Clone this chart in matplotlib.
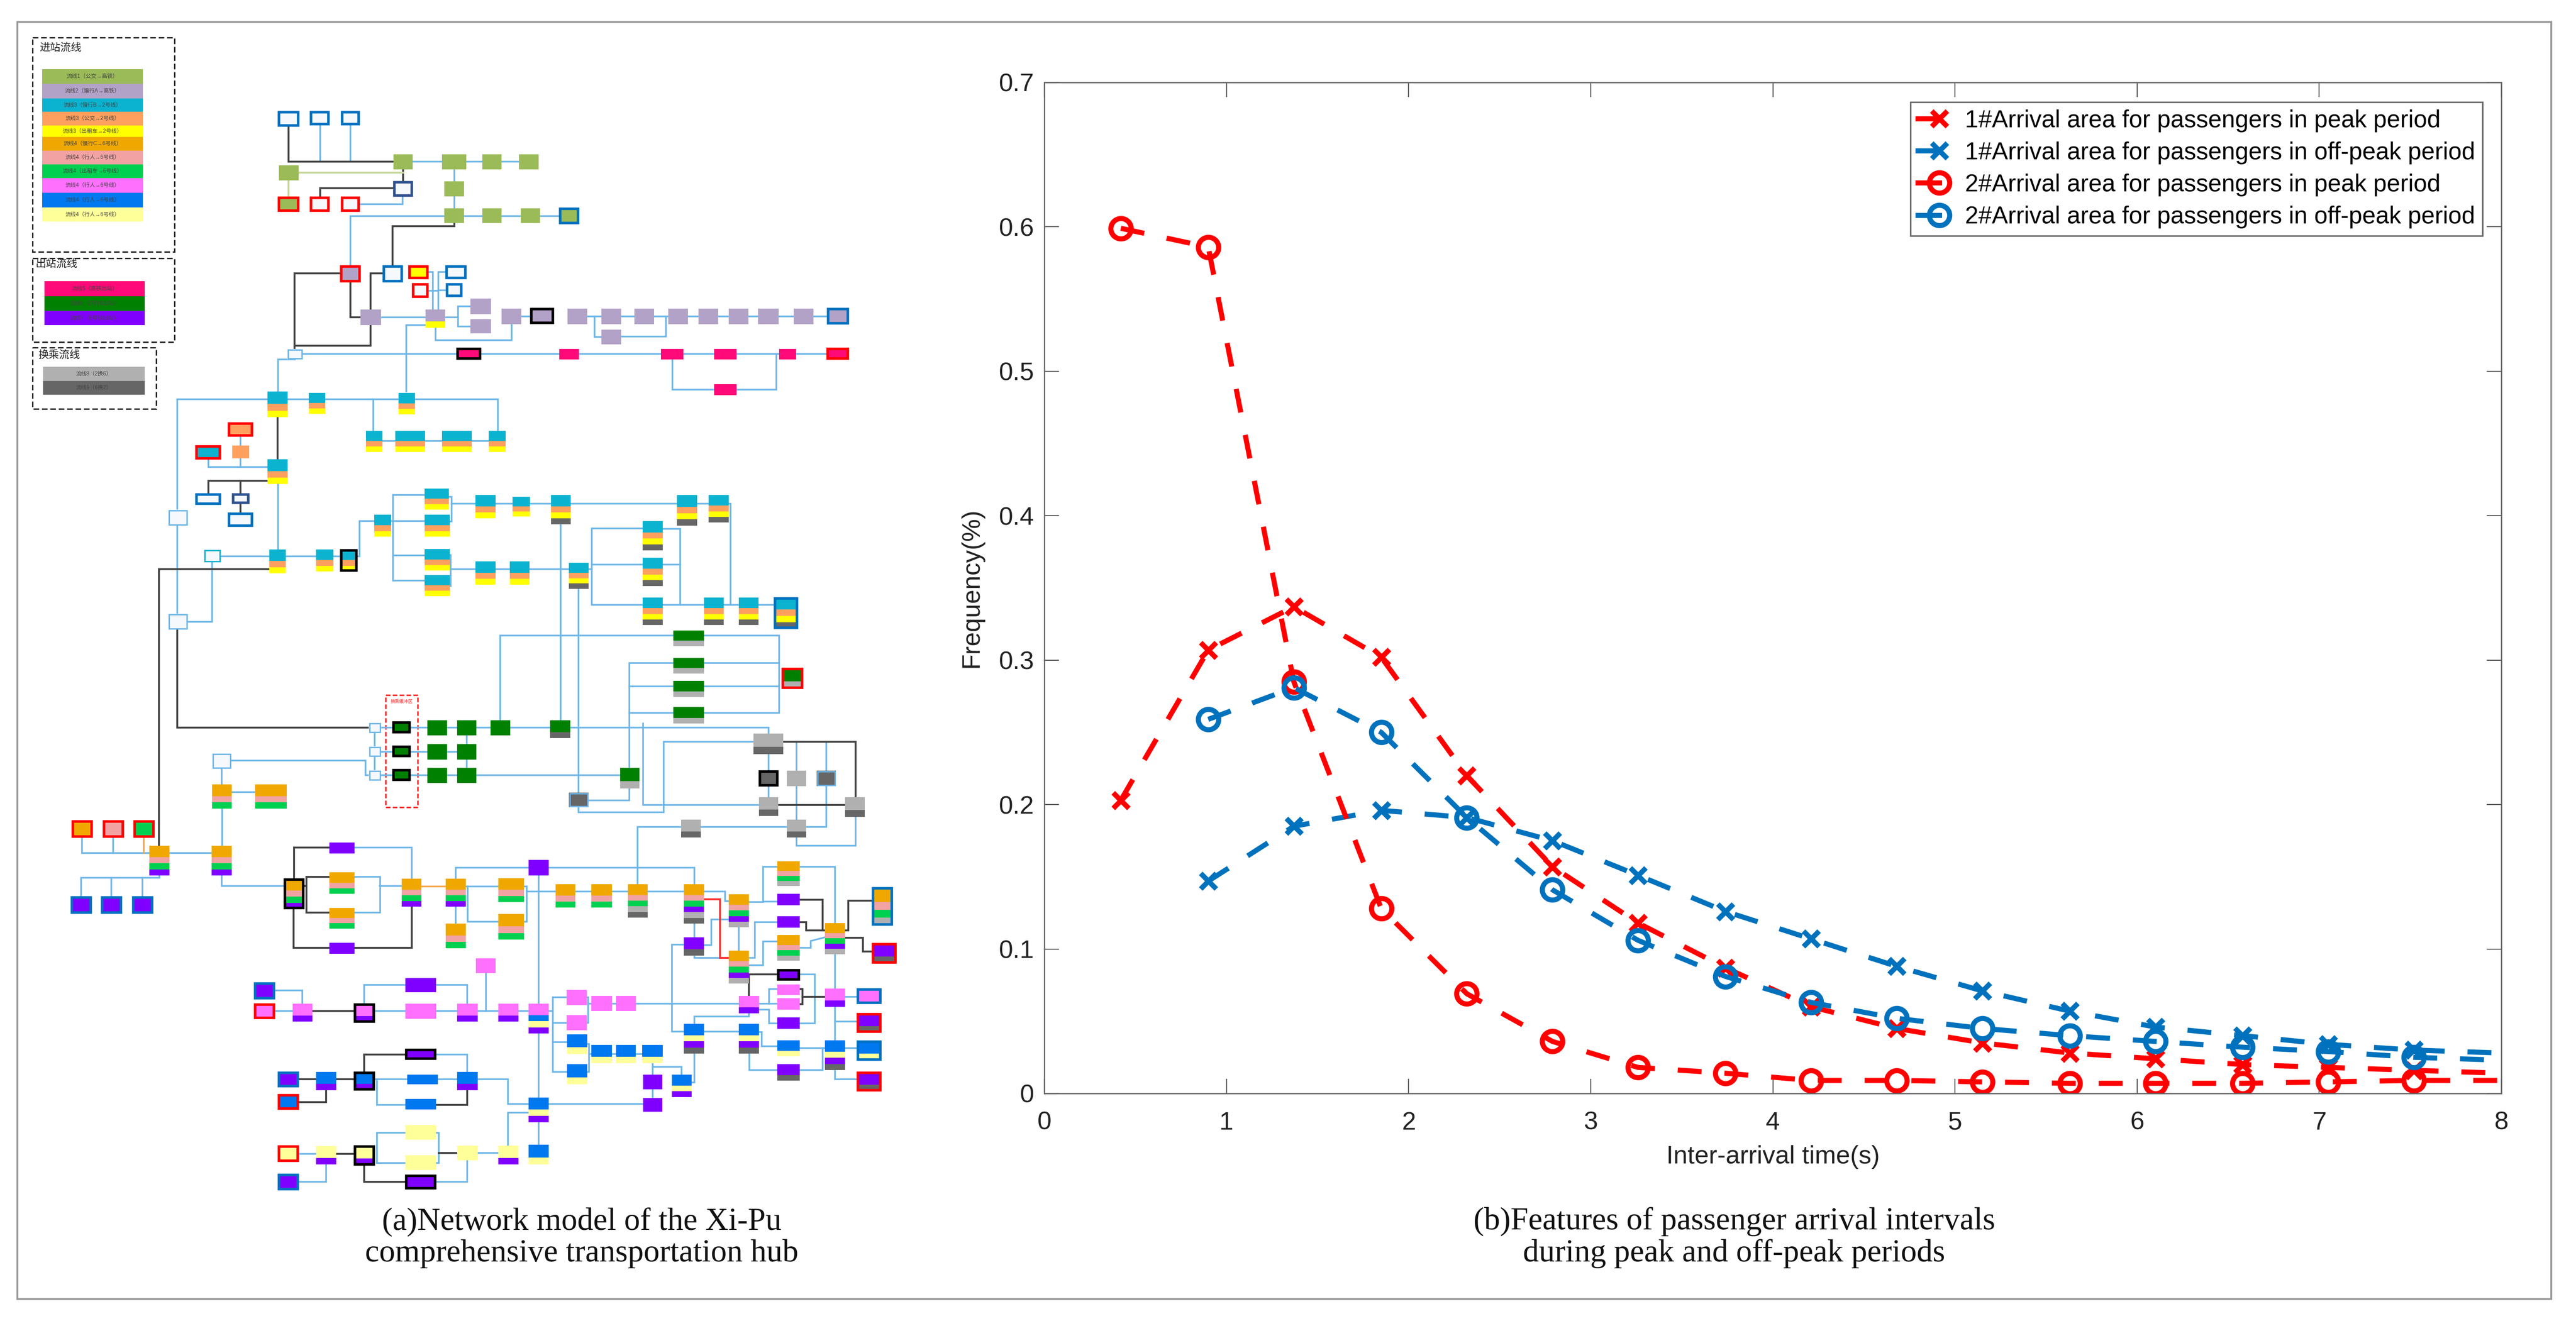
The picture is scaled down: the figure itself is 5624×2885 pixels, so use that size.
import matplotlib
matplotlib.use('Agg')
import matplotlib.pyplot as plt
from matplotlib.legend_handler import HandlerLine2D
from matplotlib.patches import Rectangle

W, H = 5624, 2885

# fills
GRN, PUR, TEA, ORG, YEL, AMB = '#9BBB59', '#B3A2C7', '#0BB3D0', '#FFA05F', '#FFFF00', '#F0A800'
PNK, LGR, MAG, BLU, LYL = '#F2A2A2', '#00D050', '#FF70FF', '#0078F0', '#FFFF99'
RSE, DGR, VIO, GRY, DGY, WHT = '#FF0A78', '#008000', '#8000FF', '#B0B0B0', '#666666', '#F5F8FC'
# edges
RED, BE, BLK, NVY, LB = '#FF0000', '#0070C0', '#000000', '#2F528F', '#6DB6E8'

# right panel data
x_vals = [0.42, 0.90, 1.37, 1.85, 2.32, 2.79, 3.26, 3.74, 4.21, 4.68, 5.15, 5.63, 6.10, 6.58, 7.05, 7.52, 8.00]
area1_peak = [0.203, 0.307, 0.337, 0.302, 0.220, 0.157, 0.118, 0.087, 0.060, 0.045, 0.035, 0.028, 0.024, 0.020,
              0.018, 0.016, 0.014]
area1_off = [0.147, 0.185, 0.196, 0.191, 0.175, 0.151, 0.126, 0.107, 0.088, 0.071, 0.057, 0.046, 0.040, 0.034,
             0.030, 0.028]
area2_peak = [0.599, 0.586, 0.285, 0.128, 0.069, 0.036, 0.018, 0.014, 0.009, 0.009, 0.008, 0.007, 0.007, 0.007,
              0.008, 0.009, 0.009]
area2_off = [0.259, 0.281, 0.250, 0.191, 0.141, 0.106, 0.081, 0.063, 0.052, 0.045, 0.040, 0.036, 0.032, 0.029,
             0.025, 0.023]
legend_labels = ['1#Arrival area for passengers in peak period', '1#Arrival area for passengers in off-peak period',
                 '2#Arrival area for passengers in peak period', '2#Arrival area for passengers in off-peak period']
caption_a = '(a)Network model of the Xi-Pu\ncomprehensive transportation hub'
caption_b = '(b)Features of passenger arrival intervals\nduring peak and off-peak periods'

# left panel key
key_in_title = '进站流线'
key_in = ['流线1（公交→高铁）', '流线2（慢行A→高铁）', '流线3（慢行B→2号线）', '流线3（公交→2号线）',
          '流线3（出租车→2号线）', '流线4（慢行C→6号线）', '流线4（行人→6号线）', '流线4（出租车→6号线）',
          '流线4（行人→6号线）', '流线4（行人→6号线）', '流线4（行人→6号线）']
key_in_colors = [GRN, PUR, TEA, ORG, YEL, AMB, PNK, LGR, MAG, BLU, LYL]
key_in_edges = [151, 183, 215, 244, 274, 299, 329, 359, 389, 421, 453, 484]
key_out_title = '出站流线'
key_out = ['流线5（高铁出站）', '流线6（2号线出站）', '流线7（6号线出站）']
key_out_colors = [RSE, DGR, VIO]
key_out_edges = [614, 647, 679, 710]
key_tr_title = '换乘流线'
key_tr = ['流线8（2换6）', '流线9（6换2）']
key_tr_colors = [GRY, DGY]
key_tr_edges = [801, 832, 862]

# network nodes: x0, y0, x1, y1, fills, edge
nodes_green = [
    (607, 243, 653, 276, [WHT], BE), (677, 243, 719, 273, [WHT], BE), (745, 243, 785, 273, [WHT], BE),
    (859, 337, 901, 370, [GRN], None), (965, 337, 1018, 370, [GRN], None), (1053, 337, 1095, 370, [GRN], None),
    (1133, 337, 1176, 370, [GRN], None), (609, 361, 652, 394, [GRN], None), (859, 396, 901, 429, [WHT], NVY),
    (970, 396, 1013, 429, [GRN], None), (607, 430, 653, 462, [GRN], RED), (677, 430, 719, 462, [WHT], RED),
    (745, 430, 785, 462, [WHT], RED), (970, 455, 1013, 487, [GRN], None), (1053, 455, 1095, 487, [GRN], None),
    (1137, 455, 1179, 487, [GRN], None), (1221, 454, 1264, 489, [GRN], BE),
]
nodes_purple = [
    (743, 580, 787, 616, [PUR], RED), (836, 580, 879, 616, [WHT], BE), (892, 580, 935, 609, [YEL], RED),
    (900, 619, 935, 650, [WHT], RED), (973, 580, 1018, 609, [WHT], BE), (974, 619, 1009, 648, [WHT], BE),
    (787, 676, 832, 710, [PUR], None), (929, 676, 972, 716, [PUR, YEL], None), (1027, 652, 1072, 686, [PUR], None),
    (1027, 697, 1072, 728, [PUR], None), (1095, 674, 1138, 708, [PUR], None), (1158, 673, 1209, 707, [PUR], BLK),
    (1239, 674, 1282, 708, [PUR], None), (1313, 674, 1356, 708, [PUR], None), (1385, 674, 1428, 708, [PUR], None),
    (1459, 674, 1502, 708, [PUR], None), (1525, 674, 1568, 708, [PUR], None), (1591, 674, 1634, 708, [PUR], None),
    (1655, 674, 1700, 708, [PUR], None), (1733, 674, 1776, 708, [PUR], None), (1806, 673, 1853, 708, [PUR], BE),
    (1313, 720, 1356, 752, [PUR], None),
]
nodes_rose = [
    (627, 762, 661, 785, [WHT], LB), (997, 760, 1050, 785, [RSE], BLK), (1221, 762, 1264, 785, [RSE], None),
    (1443, 762, 1492, 785, [RSE], None), (1559, 762, 1608, 785, [RSE], None), (1701, 762, 1738, 785, [RSE], None),
    (1805, 760, 1853, 785, [RSE], RED), (1559, 839, 1608, 863, [RSE], None),
]
nodes_teal = [
    (584, 855, 628, 911, [TEA, ORG, YEL], None), (674, 858, 710, 904, [TEA, ORG, YEL], None),
    (870, 858, 906, 905, [TEA, ORG, YEL], None), (799, 941, 835, 987, [TEA, ORG, YEL], None),
    (863, 941, 928, 987, [TEA, ORG, YEL], None), (965, 941, 1030, 987, [TEA, ORG, YEL], None),
    (1067, 941, 1104, 987, [TEA, ORG, YEL], None), (498, 923, 552, 953, [ORG], RED), (427, 973, 482, 1003, [TEA], RED),
    (507, 973, 544, 1001, [ORG], None), (584, 1003, 628, 1057, [TEA, ORG, YEL], None),
    (427, 1078, 482, 1102, [WHT], BE), (507, 1078, 544, 1100, [WHT], NVY), (498, 1120, 552, 1150, [WHT], BE),
    (367, 1113, 410, 1148, [WHT], LB), (445, 1200, 482, 1228, [WHT], TEA), (588, 1200, 624, 1252, [TEA, ORG, YEL], None),
    (690, 1200, 728, 1248, [TEA, ORG, YEL], None), (743, 1200, 780, 1248, [TEA, ORG, YEL], BLK),
    (367, 1340, 410, 1375, [WHT], LB), (927, 1067, 980, 1113, [TEA, ORG, YEL], None),
    (1038, 1081, 1082, 1132, [TEA, ORG, YEL], None), (1119, 1085, 1157, 1128, [TEA, ORG, YEL], None),
    (1203, 1081, 1246, 1145, [TEA, ORG, YEL, DGY], None), (1478, 1081, 1522, 1148, [TEA, ORG, YEL, DGY], None),
    (1547, 1081, 1591, 1141, [TEA, ORG, YEL, DGY], None), (817, 1124, 854, 1172, [TEA, ORG, YEL], None),
    (927, 1124, 982, 1172, [TEA, ORG, YEL], None), (1403, 1138, 1447, 1202, [TEA, ORG, YEL, DGY], None),
    (927, 1199, 982, 1246, [TEA, ORG, YEL], None), (927, 1256, 982, 1302, [TEA, ORG, YEL], None),
    (1038, 1226, 1082, 1277, [TEA, ORG, YEL], None), (1113, 1226, 1156, 1277, [TEA, ORG, YEL], None),
    (1242, 1229, 1285, 1286, [TEA, ORG, YEL, DGY], None), (1403, 1218, 1447, 1280, [TEA, ORG, YEL, DGY], None),
    (1403, 1305, 1447, 1365, [TEA, ORG, YEL, DGY], None), (1537, 1305, 1580, 1365, [TEA, ORG, YEL, DGY], None),
    (1613, 1305, 1656, 1365, [TEA, ORG, YEL, DGY], None), (1690, 1305, 1742, 1373, [TEA, ORG, YEL, DGY], BE),
]
nodes_dgreen = [
    (1470, 1377, 1537, 1411, [DGR, GRY], None), (1470, 1437, 1537, 1471, [DGR, GRY], None),
    (1470, 1487, 1537, 1522, [DGR, GRY], None), (1470, 1544, 1537, 1580, [DGR, GRY], None),
    (1707, 1459, 1753, 1504, [DGR, GRY], RED), (857, 1576, 896, 1601, [DGR], BLK), (857, 1629, 896, 1653, [DGR], BLK),
    (857, 1680, 896, 1705, [DGR], BLK), (805, 1578, 832, 1601, [WHT], LB), (805, 1630, 832, 1653, [WHT], LB),
    (805, 1682, 832, 1705, [WHT], LB), (933, 1573, 976, 1606, [DGR], None), (998, 1573, 1040, 1606, [DGR], None),
    (1071, 1573, 1114, 1606, [DGR], None), (1201, 1573, 1245, 1612, [DGR, DGY], None),
    (933, 1625, 976, 1659, [DGR], None), (998, 1625, 1040, 1659, [DGR], None), (933, 1677, 976, 1710, [DGR], None),
    (998, 1677, 1040, 1710, [DGR], None), (1354, 1677, 1396, 1722, [DGR, GRY], None),
    (1242, 1731, 1285, 1763, [DGY], LB), (463, 1645, 505, 1679, [WHT], LB),
]
nodes_grey = [
    (1645, 1602, 1710, 1647, [GRY, DGY], None), (1657, 1683, 1699, 1717, [DGY], BLK), (1718, 1683, 1760, 1717, [GRY], None),
    (1783, 1683, 1825, 1717, [DGY], LB), (1657, 1741, 1699, 1782, [GRY, DGY], None),
    (1845, 1741, 1888, 1784, [GRY, DGY], None), (1487, 1790, 1530, 1829, [GRY, DGY], None),
    (1718, 1790, 1760, 1829, [GRY, DGY], None),
]
nodes_amber = [
    (463, 1713, 506, 1766, [AMB, PNK, LGR], None), (557, 1713, 626, 1766, [AMB, PNK, LGR], None),
    (157, 1792, 202, 1829, [AMB], RED), (225, 1792, 270, 1829, [PNK], RED), (292, 1792, 337, 1829, [LGR], RED),
    (326, 1847, 370, 1912, [AMB, PNK, LGR, VIO], None), (462, 1847, 506, 1912, [AMB, PNK, LGR, VIO], None),
    (155, 1958, 200, 1995, [VIO], BE), (221, 1958, 266, 1995, [VIO], BE), (289, 1958, 334, 1995, [VIO], BE),
    (620, 1919, 664, 1985, [AMB, PNK, LGR, VIO], BLK), (719, 1840, 774, 1864, [VIO], None),
    (719, 1905, 774, 1952, [AMB, PNK, LGR], None), (719, 1983, 774, 2028, [AMB, PNK, LGR], None),
    (719, 2059, 774, 2083, [VIO], None), (877, 1919, 920, 1980, [AMB, PNK, LGR, VIO], None),
    (973, 1919, 1017, 1980, [AMB, PNK, LGR, VIO], None), (973, 2017, 1017, 2071, [AMB, PNK, LGR], None),
    (1088, 1918, 1144, 1970, [AMB, PNK, LGR], None), (1088, 1996, 1144, 2052, [AMB, PNK, LGR], None),
    (1213, 1931, 1256, 1982, [AMB, PNK, LGR], None), (1291, 1931, 1336, 1982, [AMB, PNK, LGR], None),
    (1371, 1931, 1414, 2004, [AMB, PNK, LGR, GRY, DGY], None), (1493, 1931, 1537, 2017, [AMB, PNK, LGR, VIO, GRY, DGY], None),
    (1591, 1953, 1635, 2025, [AMB, PNK, LGR, VIO, GRY], None), (1591, 2076, 1635, 2148, [AMB, PNK, LGR, VIO, GRY], None),
    (1154, 1878, 1198, 1912, [VIO], None), (1493, 2047, 1537, 2087, [VIO, DGY], None),
    (1697, 1881, 1746, 1935, [AMB, PNK, LGR, GRY], None), (1697, 1952, 1746, 1977, [VIO], None),
    (1697, 2001, 1746, 2026, [VIO], None), (1697, 2042, 1746, 2098, [AMB, PNK, LGR, GRY], None),
    (1801, 2016, 1845, 2084, [AMB, PNK, LGR, VIO, GRY], None), (1904, 1938, 1949, 2021, [AMB, PNK, LGR, GRY], BE),
    (1904, 2060, 1957, 2104, [VIO, DGY], RED), (1697, 2117, 1746, 2141, [VIO], BLK),
]
nodes_pink = [
    (555, 2146, 600, 2182, [VIO], BE), (555, 2192, 600, 2225, [MAG], RED), (639, 2192, 682, 2231, [MAG, VIO], None),
    (773, 2192, 818, 2233, [MAG, VIO], BLK), (885, 2136, 952, 2167, [VIO], None), (885, 2192, 952, 2225, [MAG], None),
    (998, 2192, 1043, 2231, [MAG, VIO], None), (1039, 2093, 1082, 2125, [MAG], None),
    (1088, 2192, 1132, 2231, [MAG, VIO], None), (1154, 2192, 1198, 2257, [MAG, BLU, LYL, VIO], None),
    (1237, 2162, 1281, 2195, [MAG], None), (1237, 2217, 1281, 2250, [MAG], None), (1291, 2175, 1336, 2208, [MAG], None),
    (1345, 2175, 1388, 2208, [MAG], None), (1613, 2175, 1657, 2213, [MAG, VIO], None), (1697, 2150, 1746, 2173, [MAG], None),
    (1697, 2180, 1746, 2205, [MAG], None), (1697, 2222, 1746, 2247, [VIO], None), (1801, 2159, 1845, 2199, [MAG, VIO], None),
    (1871, 2159, 1924, 2192, [MAG], BE), (1871, 2213, 1924, 2255, [VIO, DGY], RED),
]
nodes_blue = [
    (1238, 2259, 1282, 2302, [BLU, LYL], None), (1238, 2324, 1282, 2368, [BLU, LYL], None),
    (1291, 2282, 1336, 2322, [BLU, LYL], None), (1345, 2282, 1388, 2322, [BLU, LYL], None),
    (1402, 2282, 1447, 2322, [BLU, LYL], None), (1404, 2347, 1446, 2379, [VIO], None), (1404, 2398, 1446, 2428, [VIO], None),
    (1467, 2347, 1510, 2396, [BLU, LYL, VIO], None), (1493, 2236, 1537, 2301, [BLU, LYL, VIO, DGY], None),
    (1613, 2236, 1657, 2301, [BLU, LYL, VIO, DGY], None), (1697, 2272, 1746, 2307, [BLU, LYL], None),
    (1697, 2324, 1746, 2360, [VIO, DGY], None), (1801, 2272, 1845, 2337, [BLU, LYL, VIO, DGY], None),
    (1871, 2273, 1924, 2316, [BLU, LYL], BE), (1871, 2341, 1924, 2383, [VIO, DGY], RED),
    (607, 2341, 652, 2374, [VIO], BE), (607, 2390, 652, 2423, [BLU], RED), (690, 2341, 734, 2381, [BLU, VIO], None),
    (773, 2341, 818, 2381, [BLU, VIO], BLK), (885, 2291, 952, 2314, [VIO], BLK), (889, 2347, 956, 2368, [BLU], None),
    (885, 2400, 952, 2423, [BLU], None), (998, 2341, 1043, 2381, [BLU, VIO], None),
    (1154, 2397, 1198, 2451, [BLU, LYL, VIO], None), (1154, 2500, 1198, 2543, [BLU, LYL], None),
]
nodes_yellow = [
    (607, 2502, 652, 2537, [LYL], RED), (607, 2564, 652, 2599, [VIO], BE), (690, 2503, 734, 2543, [LYL, VIO], None),
    (773, 2502, 818, 2545, [LYL, VIO], BLK), (885, 2457, 952, 2489, [LYL], None), (885, 2523, 952, 2555, [LYL], None),
    (885, 2566, 952, 2597, [VIO], BLK), (998, 2502, 1043, 2534, [LYL], None), (1088, 2502, 1132, 2543, [LYL, VIO], None),
]
all_nodes = nodes_green + nodes_purple + nodes_rose + nodes_teal + nodes_dgreen + nodes_grey + nodes_amber + nodes_pink \
    + nodes_blue + nodes_yellow

# network links as polylines
blue_links = [
    [(699, 273), (699, 353)], [(765, 273), (765, 353)], [(901, 353), (965, 353)], [(1018, 353), (1053, 353)],
    [(1095, 353), (1133, 353)], [(785, 446), (879, 446), (879, 429)], [(992, 370), (992, 396)], [(992, 429), (992, 455)],
    [(765, 580), (765, 472), (970, 472)], [(1013, 472), (1053, 472)], [(1095, 472), (1137, 472)], [(1179, 472), (1221, 472)],
    [(832, 693), (929, 693)], [(935, 594), (945, 594), (945, 676)], [(935, 635), (957, 635)],
    [(973, 594), (957, 594), (957, 676)], [(974, 634), (957, 634)], [(972, 693), (1000, 693)],
    [(1027, 669), (1000, 669), (1000, 713), (1027, 713)], [(887, 855), (887, 710), (929, 710)],
    [(951, 716), (951, 743), (1117, 743), (1117, 708)], [(1138, 691), (1158, 691)], [(1282, 691), (1806, 691)],
    [(1298, 691), (1298, 736), (1313, 736)], [(1356, 735), (1454, 735), (1454, 691)], [(661, 773), (997, 773)],
    [(1050, 773), (1221, 773)], [(1264, 773), (1443, 773)], [(1492, 773), (1559, 773)], [(1608, 773), (1701, 773)],
    [(1738, 773), (1805, 773)], [(1468, 785), (1468, 851), (1559, 851)], [(1608, 851), (1695, 851), (1695, 773)],
    [(607, 855), (607, 785), (644, 785)], [(584, 872), (387, 872), (387, 1113)], [(628, 872), (674, 872)],
    [(710, 872), (870, 872)], [(906, 872), (1087, 872), (1087, 941)], [(815, 872), (815, 941)], [(835, 963), (863, 963)],
    [(928, 963), (965, 963)], [(1030, 963), (1067, 963)], [(525, 953), (525, 973)], [(525, 1001), (525, 1020)],
    [(455, 1003), (455, 1020), (584, 1020)], [(607, 1057), (607, 1200)], [(387, 1148), (387, 1340)],
    [(482, 1215), (588, 1215)], [(463, 1228), (463, 1358), (410, 1358)], [(624, 1215), (690, 1215)], [(728, 1215), (743, 1215)],
    [(780, 1215), (785, 1215), (785, 1138), (817, 1138)], [(859, 1081), (927, 1081)], [(858, 1081), (858, 1268), (927, 1268)],
    [(854, 1138), (927, 1138)], [(858, 1213), (927, 1213)], [(980, 1085), (986, 1085), (986, 1139), (982, 1139)],
    [(986, 1100), (1038, 1100)], [(1082, 1100), (1119, 1100)], [(1157, 1100), (1203, 1100)], [(1246, 1100), (1478, 1100)],
    [(1522, 1100), (1547, 1100)], [(1591, 1100), (1595, 1100), (1595, 1321)], [(982, 1212), (984, 1212), (984, 1280), (982, 1280)],
    [(984, 1243), (1038, 1243)], [(1082, 1243), (1113, 1243)], [(1156, 1243), (1242, 1243)], [(1224, 1146), (1224, 1573)],
    [(1285, 1243), (1292, 1243)], [(1403, 1154), (1292, 1154), (1292, 1321), (1403, 1321)], [(1292, 1233), (1403, 1233)],
    [(1447, 1155), (1485, 1155), (1485, 1321)], [(1447, 1233), (1485, 1233)], [(1447, 1321), (1537, 1321)],
    [(1580, 1321), (1613, 1321)], [(1656, 1321), (1690, 1321)], [(1263, 1286), (1263, 1731)], [(832, 1589), (857, 1589)],
    [(896, 1589), (933, 1589)], [(976, 1589), (998, 1589)], [(1040, 1589), (1071, 1589)], [(1114, 1589), (1201, 1589)],
    [(1245, 1589), (1678, 1589), (1678, 1602)], [(818, 1601), (818, 1630)], [(818, 1653), (818, 1682)],
    [(832, 1642), (857, 1642)], [(896, 1642), (933, 1642)], [(976, 1642), (998, 1642)], [(1019, 1606), (1019, 1625)],
    [(832, 1693), (857, 1693)], [(896, 1693), (933, 1693)], [(976, 1693), (998, 1693)], [(1040, 1693), (1354, 1693)],
    [(1019, 1659), (1019, 1677)], [(1092, 1573), (1092, 1388), (1470, 1388)], [(1537, 1388), (1701, 1388), (1701, 1557), (1537, 1557)],
    [(1537, 1448), (1701, 1448)], [(1537, 1499), (1701, 1499)], [(1470, 1448), (1374, 1448), (1374, 1677)],
    [(1374, 1499), (1470, 1499)], [(1374, 1557), (1470, 1557)], [(505, 1661), (798, 1661), (798, 1693), (805, 1693)],
    [(484, 1679), (484, 1713)], [(506, 1730), (557, 1730)], [(485, 1766), (485, 1847)], [(1374, 1722), (1374, 1748), (1285, 1748)],
    [(1263, 1763), (1263, 1774), (1449, 1774), (1449, 1620), (1645, 1620)], [(1678, 1647), (1678, 1683)], [(1678, 1717), (1678, 1741)],
    [(1739, 1620), (1739, 1683)], [(1804, 1620), (1804, 1683)], [(1739, 1717), (1739, 1790)], [(1804, 1717), (1804, 1806), (1760, 1806)],
    [(1404, 1580), (1404, 1758), (1657, 1758)], [(1530, 1806), (1718, 1806)], [(1487, 1806), (1392, 1806), (1392, 1931)],
    [(1739, 1829), (1739, 1847), (1868, 1847), (1868, 1784)], [(179, 1829), (179, 1863), (326, 1863)], [(247, 1829), (247, 1863)],
    [(370, 1863), (462, 1863)], [(348, 1912), (348, 1917), (177, 1917), (177, 1958)], [(243, 1917), (243, 1958)], [(311, 1917), (311, 1958)],
    [(484, 1912), (484, 1935), (620, 1935)], [(774, 1851), (899, 1851), (899, 1919)], [(774, 1915), (830, 1915), (830, 1993), (774, 1993)],
    [(829, 1935), (877, 1935)], [(995, 1919), (995, 1895), (1154, 1895)], [(1198, 1895), (1516, 1895), (1516, 1931)],
    [(1017, 1936), (1088, 1936)], [(1021, 1936), (1021, 2013), (1088, 2013)], [(995, 1980), (995, 2017)],
    [(1144, 1936), (1150, 1936), (1150, 2013), (1144, 2013)], [(1150, 1947), (1213, 1947)], [(1256, 1947), (1291, 1947)],
    [(1336, 1947), (1371, 1947)], [(1414, 1947), (1493, 1947)], [(1537, 1947), (1583, 1947), (1583, 1968), (1591, 1968)],
    [(1613, 2025), (1613, 2076)], [(1516, 2017), (1516, 2047)], [(1537, 2064), (1553, 2064), (1553, 2008), (1591, 2008)],
    [(1516, 2087), (1516, 2092), (1591, 2092)], [(1635, 1970), (1666, 1970), (1666, 1893), (1697, 1893)], [(1666, 1969), (1697, 1969)],
    [(1635, 2092), (1648, 2092), (1648, 2014), (1697, 2014)], [(1635, 2108), (1666, 2108), (1666, 2056), (1697, 2056)],
    [(1746, 1893), (1823, 1893), (1823, 2016)], [(1746, 2070), (1770, 2070), (1770, 2055), (1801, 2047)],
    [(1746, 2128), (1779, 2128), (1779, 2235), (1746, 2235)], [(660, 2192), (660, 2163), (600, 2163)], [(600, 2208), (639, 2208)],
    [(818, 2208), (885, 2208)], [(952, 2208), (998, 2208)], [(795, 2192), (795, 2151), (885, 2151)], [(952, 2151), (1020, 2151), (1020, 2192)],
    [(1043, 2208), (1088, 2208)], [(1061, 2125), (1061, 2208)], [(1132, 2208), (1154, 2208)], [(1176, 2192), (1176, 1912)],
    [(1176, 2257), (1176, 2397)], [(1198, 2208), (1207, 2208)], [(1237, 2178), (1207, 2178), (1207, 2341), (1238, 2341)],
    [(1207, 2234), (1237, 2234)], [(1207, 2276), (1238, 2276)], [(1281, 2178), (1284, 2178), (1284, 2234), (1281, 2234)],
    [(1284, 2192), (1291, 2192)], [(1336, 2192), (1345, 2192)], [(1388, 2192), (1613, 2192)],
    [(1282, 2280), (1286, 2280), (1286, 2341), (1282, 2341)], [(1286, 2302), (1291, 2302)], [(1336, 2302), (1345, 2302)],
    [(1388, 2302), (1402, 2302)], [(1425, 2322), (1425, 2347)], [(1425, 2330), (1488, 2330), (1488, 2347)], [(1425, 2379), (1425, 2398)],
    [(1510, 2364), (1516, 2364), (1516, 2301)], [(1493, 2063), (1467, 2063), (1467, 2253), (1493, 2253)], [(1537, 2253), (1613, 2253)],
    [(1516, 2236), (1516, 2220), (1635, 2220), (1635, 2213)], [(1657, 2192), (1697, 2192)], [(1679, 2192), (1679, 2160), (1697, 2160)],
    [(1657, 2205), (1679, 2205), (1679, 2235), (1697, 2235)], [(1845, 2177), (1871, 2177)], [(1823, 2159), (1823, 2084)],
    [(1823, 2199), (1823, 2272)], [(1823, 2231), (1871, 2231)], [(1845, 2289), (1871, 2289)], [(1746, 2289), (1801, 2289)],
    [(1657, 2254), (1663, 2254), (1663, 2285), (1697, 2285)], [(1636, 2301), (1636, 2337), (1697, 2337)], [(1746, 2337), (1796, 2337), (1796, 2289)],
    [(1823, 2337), (1823, 2357), (1871, 2357)], [(818, 2357), (889, 2357)], [(956, 2357), (998, 2357)], [(823, 2357), (823, 2413), (885, 2413)],
    [(952, 2303), (1020, 2303), (1020, 2341)], [(1043, 2357), (1109, 2357), (1109, 2411), (1154, 2411)], [(1198, 2411), (1404, 2411)],
    [(1176, 2451), (1176, 2500)], [(1154, 2430), (1109, 2430), (1109, 2502)], [(652, 2520), (690, 2520)], [(712, 2543), (712, 2581), (652, 2581)],
    [(885, 2474), (823, 2474), (823, 2540), (885, 2540)], [(952, 2474), (958, 2474), (958, 2540), (952, 2540)],
    [(1020, 2534), (1020, 2581), (952, 2581)], [(1043, 2518), (1088, 2518)],
]
dark_links = [
    [(630, 276), (630, 353), (859, 353)], [(880, 370), (880, 396)], [(859, 411), (699, 411), (699, 430)],
    [(992, 487), (992, 494), (857, 494), (857, 580)], [(743, 597), (643, 597), (643, 762)], [(765, 616), (765, 693), (787, 693)],
    [(809, 676), (809, 597), (836, 597)], [(809, 710), (809, 755), (643, 755)], [(606, 911), (606, 1003)],
    [(584, 1050), (455, 1050), (455, 1078)], [(525, 1050), (525, 1120)], [(588, 1243), (347, 1243), (347, 1847)],
    [(387, 1375), (387, 1589), (805, 1589)], [(1710, 1620), (1868, 1620), (1868, 1741)], [(1845, 1758), (1699, 1758)],
    [(642, 1919), (642, 1851), (719, 1851)], [(664, 1935), (669, 1935)], [(719, 1915), (669, 1915), (669, 1993), (719, 1993)],
    [(641, 1985), (641, 2070), (719, 2070)], [(899, 1980), (899, 2070), (774, 2070)], [(1746, 1965), (1796, 1965), (1796, 2032), (1801, 2032)],
    [(1746, 2014), (1760, 2014), (1760, 2032), (1801, 2032)], [(1845, 2032), (1852, 2032), (1852, 1967), (1904, 1967)],
    [(1845, 2048), (1884, 2048), (1884, 2078), (1904, 2078)], [(1635, 2128), (1697, 2128)], [(1635, 2128), (1635, 2175)],
    [(773, 2208), (682, 2208)], [(1746, 2160), (1752, 2160), (1752, 2193), (1746, 2193)], [(1752, 2177), (1801, 2177)],
    [(690, 2357), (652, 2357)], [(773, 2357), (734, 2357)], [(652, 2407), (712, 2407), (712, 2381)], [(795, 2341), (795, 2303), (885, 2303)],
    [(952, 2413), (1020, 2413), (1020, 2381)], [(773, 2520), (734, 2520)], [(795, 2545), (795, 2581), (885, 2581)], [(958, 2518), (998, 2518)],
]
green_links = [[(652, 377), (880, 377)], [(630, 394), (630, 430)]]
orange_links = [[(314, 1829), (314, 1863)], [(920, 1936), (973, 1936)]]
red_links = [[(1539, 1964), (1572, 1964), (1572, 2092), (1591, 2092)]]


def draw_node(ax, node):
    x0, y0, x1, y1, fills, edge = node
    # first band is the tall one, the rest share what is left
    weights = [1.9] + [1] * (len(fills) - 1)
    y = y0
    for fill, weight in zip(fills, weights):
        h = (y1 - y0) * weight / sum(weights)
        ax.add_patch(Rectangle((x0, y), x1 - x0, h, fc=fill, ec='none', zorder=3))
        y += h
    if edge is not None:
        lw = 2.2 if edge in (LB, TEA) else 4
        ax.add_patch(Rectangle((x0 + 2, y0 + 2), x1 - x0 - 4, y1 - y0 - 4, fc='none', ec=edge, lw=lw, zorder=4))


def draw_links(ax, links, color, lw):
    for link in links:
        ax.plot([p[0] for p in link], [p[1] for p in link], color=color, lw=lw, solid_joinstyle='miter', zorder=2)


def draw_key(ax, box, title, title_xy, labels, colors, edges, x0, x1):
    ax.add_patch(Rectangle((box[0], box[1]), box[2] - box[0], box[3] - box[1], fc='none', ec='#222222', lw=2.2,
                           ls=(0, (4, 2))))
    ax.text(title_xy[0], title_xy[1], title, fontsize=16.5, va='center', ha='left', color='#222222')
    for i, label in enumerate(labels):
        ax.add_patch(Rectangle((x0, edges[i]), x1 - x0, edges[i + 1] - edges[i], fc=colors[i], ec='none'))
        ax.text((x0 + x1) / 2, (edges[i] + edges[i + 1]) / 2, label, fontsize=8.5, ha='center', va='center',
                color='#444444')


class StubHandler(HandlerLine2D):
    # short solid stub that stops at the marker, as in the original legend
    def create_artists(self, legend, orig_handle, xdescent, ydescent, width, height, fontsize, trans):
        artists = super().create_artists(legend, orig_handle, xdescent, ydescent, width, height, fontsize, trans)
        line = artists[0]
        xs = line.get_xdata()
        mid = (xs[0] + xs[-1]) / 2
        line.set_xdata([xs[0], mid, mid])
        line.set_linestyle('-')
        return artists


plt.rcParams['font.family'] = ['Liberation Sans', 'Noto Sans CJK SC', 'DejaVu Sans']

fig = plt.figure(figsize=(W / 100, H / 100), dpi=100, facecolor='white')

# whole figure in image pixels for the network side
net = fig.add_axes([0, 0, 1, 1])
net.set_xlim(0, W)
net.set_ylim(H, 0)
net.axis('off')

net.add_patch(Rectangle((38, 48), 5532, 2789, fc='none', ec='#9a9a9a', lw=3))

draw_key(net, (71, 82, 381, 550), key_in_title, (86, 104), key_in, key_in_colors, key_in_edges, 92, 312)
draw_key(net, (71, 564, 381, 747), key_out_title, (78, 576), key_out, key_out_colors, key_out_edges, 97, 316)
draw_key(net, (71, 759, 341, 893), key_tr_title, (83, 775), key_tr, key_tr_colors, key_tr_edges, 94, 316)

draw_links(net, blue_links, LB, 2.6)
draw_links(net, dark_links, '#444444', 3)
draw_links(net, green_links, '#C3D69B', 3)
draw_links(net, orange_links, '#F5A54A', 2.6)
draw_links(net, red_links, '#FF3030', 3)
for node in all_nodes:
    draw_node(net, node)

net.add_patch(Rectangle((842, 1518), 70, 245, fc='none', ec='#FF2020', lw=2.4, ls=(0, (3, 1.5))))
net.text(877, 1532, '换乘缓冲区', fontsize=7, color='#FF2020', ha='center', va='center')

net.text(1270, 2703, caption_a, family=['Liberation Serif'], fontsize=50, ha='center', va='center', linespacing=1.12,
         color='#111111')
net.text(3786, 2703, caption_b, family=['Liberation Serif'], fontsize=50, ha='center', va='center', linespacing=1.12,
         color='#111111')

# frequency chart
ax = fig.add_axes([2280 / W, 1 - 2388 / H, (5461 - 2280) / W, (2388 - 180) / H])
ax.set_xlim(0, 8)
ax.set_ylim(0, 0.7)
ax.patch.set_alpha(0)

style = dict(lw=8, ls=(0, (4.7, 4.5)), mew=8, mfc='none', clip_on=True)
n = len(x_vals)
l1, = ax.plot(x_vals, area1_peak, color='#FF0000', marker='x', ms=25, markevery=list(range(n - 1)), **style)
l2, = ax.plot(x_vals[1:], area1_off, color='#0072BD', marker='x', ms=25, markevery=list(range(n - 2)), **style)
l3, = ax.plot(x_vals, area2_peak, color='#FF0000', marker='o', ms=32, markevery=list(range(n - 1)), **style)
l4, = ax.plot(x_vals[1:], area2_off, color='#0072BD', marker='o', ms=32, markevery=list(range(n - 2)), **style)

ax.set_xticks(range(0, 9))
ax.set_yticks([0, 0.1, 0.2, 0.3, 0.4, 0.5, 0.6, 0.7])
ax.set_yticklabels(['0', '0.1', '0.2', '0.3', '0.4', '0.5', '0.6', '0.7'])
ax.tick_params(direction='in', length=23, width=1.6, color='#555555', top=True, right=True, labelsize=40,
               labelcolor='#222222')
ax.tick_params(axis='x', pad=28)
ax.tick_params(axis='y', pad=16)
for spine in ax.spines.values():
    spine.set_color('#666666')
    spine.set_linewidth(2)
ax.set_xlabel('Inter-arrival time(s)', fontsize=40, color='#222222', labelpad=16)
ax.set_ylabel('Frequency(%)', fontsize=40, color='#222222', labelpad=24)

leg = ax.legend([l1, l2, l3, l4], legend_labels, loc='upper right', bbox_to_anchor=(5420 / W, 1 - 223 / H),
                bbox_transform=fig.transFigure, borderaxespad=0, fontsize=38, fancybox=False, framealpha=1,
                edgecolor='#666666', handlelength=1.8, handletextpad=0.16, borderpad=0.3, labelspacing=0.38,
                numpoints=1, handler_map={l: StubHandler() for l in (l1, l2, l3, l4)})
leg.get_frame().set_linewidth(2.4)

fig.savefig('out.png', dpi=100)
